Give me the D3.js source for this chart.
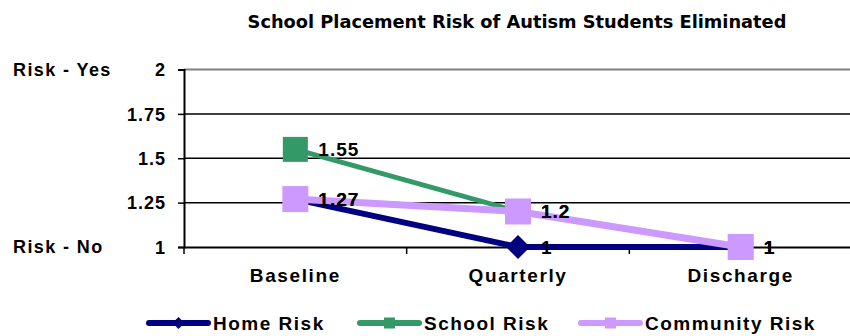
<!DOCTYPE html>
<html>
<head>
<meta charset="utf-8">
<script src="https://cdn.jsdelivr.net/npm/d3@7"></script>
<style>
  html, body { margin: 0; padding: 0; background: #fff; }
  svg text { font-family: "Liberation Sans", Arial, sans-serif; font-weight: bold; fill: #000; }
</style>
</head>
<body>
<svg id="chart" width="850" height="336"></svg>
<script>
// ---- data ----
const categories = ["Baseline", "Quarterly", "Discharge"];
const homeRisk = [1.27, 1, 1];
const schoolRisk = [1.55, 1.2, 1];
const communityRisk = [1.27, 1.2, 1];
const seriesNames = ["Home Risk", "School Risk", "Community Risk"];
const yTicks = [1, 1.25, 1.5, 1.75, 2];
const riskLabelText = ["Risk - Yes", "Risk - No"];
const riskLabelValue = [2, 1];
const chartTitle = "School Placement Risk of Autism Students Eliminated";

// ---- styling ----
const seriesStyle = [
  { color: "#000080", width: 6,   marker: "diamond", size: 24 },
  { color: "#339966", width: 5,   marker: "square",  size: 25 },
  { color: "#CC99FF", width: 7,   marker: "square",  size: 26 }
];
const series = [homeRisk, schoolRisk, communityRisk].map((vals, i) => ({
  name: seriesNames[i],
  style: seriesStyle[i],
  points: categories.map((c, j) => ({ cat: c, value: vals[j] }))
}));

const svg = d3.select("#chart");
const plot = { left: 184, right: 852, top: 69.5, bottom: 247 };

const x = d3.scaleBand().domain(categories).range([plot.left, plot.right]).padding(0);
const y = d3.scaleLinear().domain([1, 2]).range([plot.bottom, plot.top]);
const cx = c => x(c) + x.bandwidth() / 2;

// title
svg.append("text")
  .attr("x", 517).attr("y", 28)
  .attr("text-anchor", "middle")
  .style("font-family", "'DejaVu Sans', sans-serif")
  .style("font-size", "17.8px")
  .text(chartTitle);

// plot area border (top edge visible)
svg.append("line")
  .attr("x1", plot.left).attr("x2", plot.right)
  .attr("y1", y(2)).attr("y2", y(2))
  .attr("stroke", "#808080").attr("stroke-width", 2);

// horizontal gridlines
svg.append("g")
  .selectAll("line")
  .data(yTicks.filter(t => t > 1 && t < 2))
  .join("line")
  .attr("x1", plot.left).attr("x2", plot.right)
  .attr("y1", d => y(d)).attr("y2", d => y(d))
  .attr("stroke", "#000").attr("stroke-width", 1.5);

// y axis
const yAxis = d3.axisLeft(y).tickValues(yTicks).tickSize(6).tickPadding(12)
  .tickFormat(d => d3.format("")(d));
const gy = svg.append("g").attr("transform", `translate(${plot.left},0)`).call(yAxis);
gy.select(".domain").attr("stroke", "#000").attr("stroke-width", 2);
gy.selectAll(".tick line").attr("stroke", "#000").attr("stroke-width", 1.5);
gy.selectAll(".tick text")
  .style("font-size", "18px").style("letter-spacing", "1px")
  .attr("dy", "0.35em");

// risk side labels
svg.append("g").selectAll("text")
  .data(riskLabelText.map((t, i) => ({ text: t, value: riskLabelValue[i] })))
  .join("text")
  .attr("x", 13).attr("y", d => y(d.value))
  .attr("dy", "0.35em")
  .style("font-size", "18px").style("letter-spacing", "1.4px")
  .text(d => d.text);

// x axis
const xAxis = d3.axisBottom(x).tickSize(0).tickPadding(22);
const gx = svg.append("g").attr("transform", `translate(0,${plot.bottom})`).call(xAxis);
gx.select(".domain").attr("stroke", "#000").attr("stroke-width", 2);
gx.selectAll(".tick text").style("font-size", "19px").style("letter-spacing", "1.6px");
// category boundary ticks
svg.append("g").selectAll("line")
  .data(categories.concat([null]))
  .join("line")
  .attr("x1", (d, i) => plot.left + i * x.bandwidth())
  .attr("x2", (d, i) => plot.left + i * x.bandwidth())
  .attr("y1", plot.bottom).attr("y2", plot.bottom + 7)
  .attr("stroke", "#000").attr("stroke-width", 1.5);

// lines
const line = d3.line().x(d => cx(d.cat)).y(d => y(d.value));
const markerPath = (type, size) => type === "diamond"
  ? `M0,${-size / 2}L${size / 2},0L0,${size / 2}L${-size / 2},0Z`
  : `M${-size / 2},${-size / 2}h${size}v${size}h${-size}Z`;

series.forEach(s => {
  const g = svg.append("g");
  g.append("path")
    .datum(s.points)
    .attr("d", line)
    .attr("fill", "none")
    .attr("stroke", s.style.color)
    .attr("stroke-width", s.style.width);
  g.selectAll("path.mk")
    .data(s.points)
    .join("path")
    .attr("class", "mk")
    .attr("transform", d => `translate(${cx(d.cat)},${y(d.value)})`)
    .attr("d", markerPath(s.style.marker, s.style.size))
    .attr("fill", s.style.color);
});

// data labels
series.forEach(s => {
  svg.append("g").selectAll("text")
    .data(s.points)
    .join("text")
    .attr("x", d => cx(d.cat) + 23)
    .attr("y", d => y(d.value))
    .attr("dy", "0.36em")
    .style("font-size", "19px").style("letter-spacing", "1px")
    .text(d => d3.format("")(d.value));
});

// legend
const legendX = [149, 360, 581];
const legendY = 323;
const lg = svg.append("g").selectAll("g")
  .data(series)
  .join("g")
  .attr("transform", (d, i) => `translate(${legendX[i]},${legendY})`);
lg.append("line")
  .attr("x1", 0).attr("x2", 59).attr("y1", 0).attr("y2", 0)
  .attr("stroke", d => d.style.color)
  .attr("stroke-width", 6)
  .attr("stroke-linecap", "round");
lg.append("path")
  .attr("transform", "translate(29.5,0)")
  .attr("d", d => markerPath(d.style.marker, d.style.marker === "diamond" ? 12 : 11))
  .attr("fill", d => d.style.color);
lg.append("text")
  .attr("x", 64).attr("y", 0).attr("dy", "0.36em")
  .style("font-size", "19px").style("letter-spacing", "1.5px")
  .text(d => d.name);
</script>
</body>
</html>
